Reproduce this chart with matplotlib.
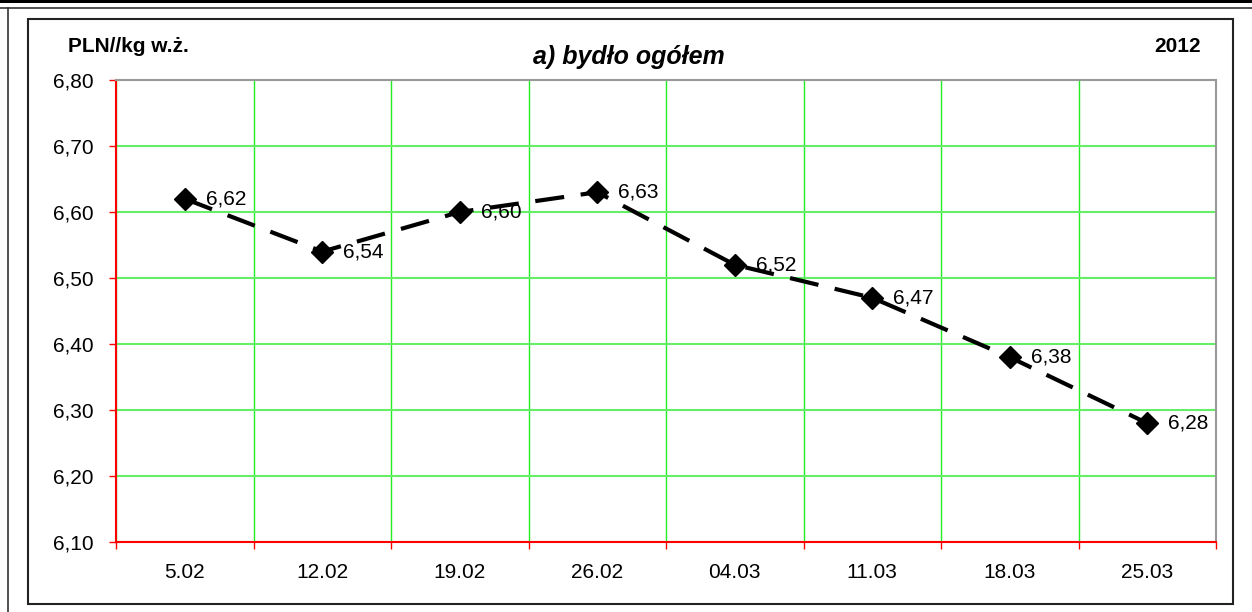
import matplotlib.pyplot as plt
from matplotlib.lines import Line2D
from matplotlib.patches import Rectangle

plt.rcParams['font.family'] = ['Liberation Sans', 'DejaVu Sans']

# dane
dates = ["5.02", "12.02", "19.02", "26.02", "04.03", "11.03", "18.03", "25.03"]
prices = [6.62, 6.54, 6.60, 6.63, 6.52, 6.47, 6.38, 6.28]
yticks = [6.10, 6.20, 6.30, 6.40, 6.50, 6.60, 6.70, 6.80]

W, H = 1252, 612
fig = plt.figure(figsize=(W / 100, H / 100), dpi=100)

# ramki wokol wykresu
fig.add_artist(Rectangle((0, (H - 3) / H), 1, 3 / H, transform=fig.transFigure,
                         color='black', lw=0))
fig.add_artist(Line2D([0, 1], [(H - 7.5) / H] * 2, transform=fig.transFigure,
                      color='#333333', lw=1.2))
fig.add_artist(Line2D([8 / W, 8 / W], [0, (H - 7.5) / H], transform=fig.transFigure,
                      color='#333333', lw=1.2))
fig.add_artist(Rectangle((28 / W, (H - 604) / H), (1233 - 28) / W, (604 - 19) / H,
                         transform=fig.transFigure, fill=False, ec='#222222', lw=1.5))

ax = fig.add_axes([116 / W, (H - 542) / H, 1100 / W, 462 / H])
x = range(len(dates))

ax.plot(x, prices, color='black', lw=3, dashes=(7, 4), marker='D', ms=11,
        mfc='black', mec='black', zorder=3)
for i, v in zip(x, prices):
    ax.annotate(f"{v:.2f}".replace('.', ','), (i, v), xytext=(15, 0),
                textcoords='offset points', va='center', ha='left', fontsize=15)

ax.set_xlim(-0.5, len(dates) - 0.5)
ax.set_ylim(6.10, 6.80)
ax.set_yticks(yticks)
ax.set_yticklabels([f"{t:.2f}".replace('.', ',') for t in yticks], fontsize=15)
ax.set_xticks(list(x))
ax.set_xticklabels(dates, fontsize=15)
ax.set_xticks([i + 0.5 for i in range(-1, len(dates))], minor=True)

ax.tick_params(axis='x', which='major', length=0, pad=15)
ax.tick_params(axis='x', which='minor', length=5, width=1, color='red', direction='out')
ax.tick_params(axis='y', length=5, width=1, color='red', direction='out', pad=11)

ax.grid(True, axis='y', color='#66ee66', lw=1.5)
ax.grid(True, axis='x', which='minor', color='#22ee22', lw=1)
ax.set_axisbelow(True)

ax.spines['left'].set_color('red')
ax.spines['bottom'].set_color('red')
ax.spines['top'].set_color('#999999')
ax.spines['right'].set_color('#999999')
for s in ax.spines.values():
    s.set_linewidth(1.5)

fig.text(68 / W, (H - 47) / H, "PLN//kg w.ż.", fontsize=15, fontweight='bold',
         va='center', ha='left')
fig.text(629 / W, (H - 57) / H, "a) bydło ogółem", fontsize=18, fontweight='bold',
         fontstyle='italic', va='center', ha='center')
fig.text(1201 / W, (H - 47) / H, "2012", fontsize=15, fontweight='bold',
         va='center', ha='right')

fig.savefig("out.png", dpi=100)
